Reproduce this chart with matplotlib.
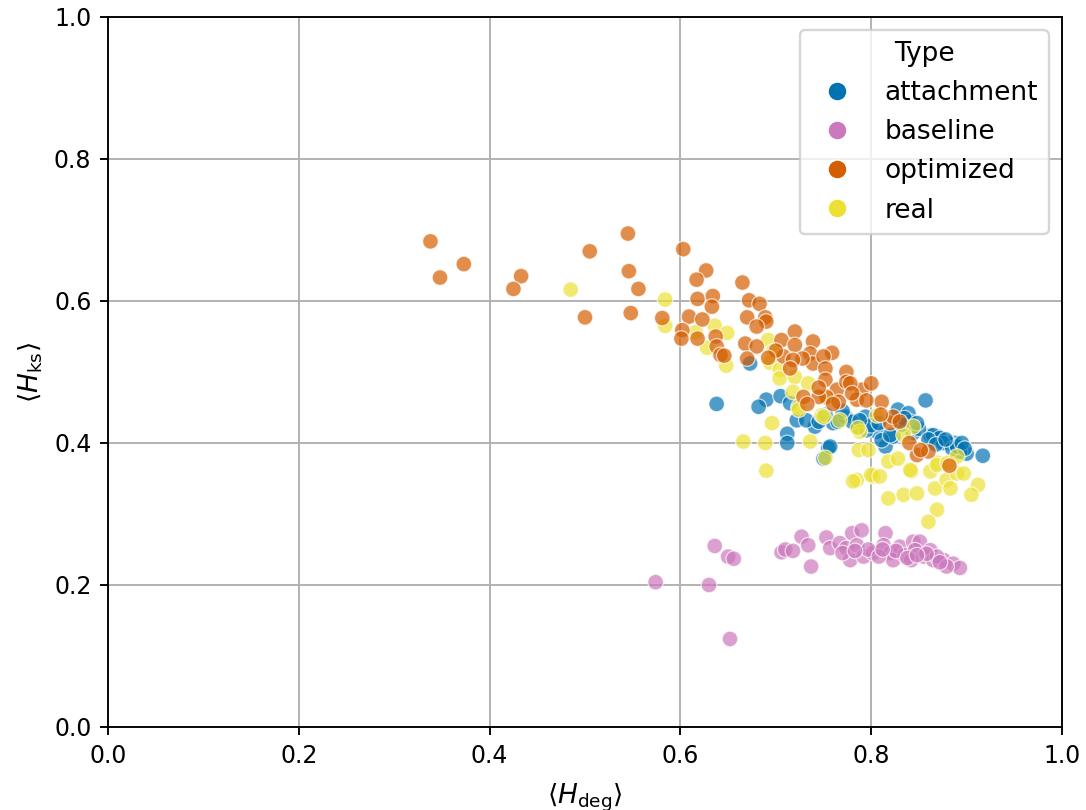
import matplotlib
matplotlib.use("Agg")
import matplotlib.pyplot as plt
import pandas as pd
import seaborn as sns

# values
attachment_x = [0.638, 0.673, 0.690, 0.682, 0.705, 0.715, 0.722, 0.712, 0.712, 0.741,
                0.755, 0.760, 0.773, 0.794, 0.785, 0.806, 0.815, 0.828, 0.839, 0.857,
                0.841, 0.862, 0.870, 0.888, 0.900, 0.917, 0.893, 0.881, 0.844, 0.823,
                0.811, 0.795, 0.750, 0.820, 0.865, 0.872, 0.757, 0.732, 0.745, 0.780,
                0.800, 0.835, 0.850, 0.875, 0.885, 0.890, 0.895, 0.860, 0.770, 0.765,
                0.752, 0.788, 0.808, 0.832, 0.848, 0.868, 0.878, 0.898]
attachment_y = [0.455, 0.512, 0.461, 0.451, 0.466, 0.456, 0.432, 0.413, 0.400, 0.423,
                0.393, 0.428, 0.437, 0.437, 0.423, 0.416, 0.395, 0.447, 0.442, 0.460,
                0.430, 0.411, 0.409, 0.400, 0.385, 0.382, 0.388, 0.400, 0.414, 0.409,
                0.404, 0.418, 0.378, 0.411, 0.411, 0.407, 0.395, 0.432, 0.430, 0.430,
                0.425, 0.435, 0.420, 0.400, 0.392, 0.395, 0.400, 0.405, 0.445, 0.430,
                0.440, 0.432, 0.428, 0.426, 0.428, 0.398, 0.405, 0.392]

baseline_x = [0.574, 0.630, 0.652, 0.636, 0.650, 0.656, 0.706, 0.710, 0.718, 0.727,
              0.734, 0.737, 0.753, 0.757, 0.767, 0.774, 0.778, 0.780, 0.790, 0.785,
              0.792, 0.802, 0.815, 0.813, 0.820, 0.823, 0.830, 0.835, 0.844, 0.851,
              0.846, 0.855, 0.862, 0.865, 0.876, 0.886, 0.893, 0.842, 0.869, 0.879,
              0.797, 0.808, 0.826, 0.838, 0.858, 0.872, 0.770, 0.783, 0.812, 0.848]
baseline_y = [0.204, 0.200, 0.124, 0.255, 0.240, 0.237, 0.246, 0.250, 0.248, 0.268,
              0.256, 0.226, 0.267, 0.252, 0.259, 0.252, 0.235, 0.273, 0.277, 0.256,
              0.240, 0.245, 0.273, 0.256, 0.245, 0.235, 0.254, 0.242, 0.261, 0.261,
              0.249, 0.240, 0.249, 0.235, 0.235, 0.230, 0.224, 0.235, 0.240, 0.226,
              0.250, 0.240, 0.248, 0.238, 0.244, 0.232, 0.245, 0.248, 0.250, 0.242]

optimized_x = [0.338, 0.348, 0.373, 0.433, 0.425, 0.505, 0.500, 0.545, 0.546, 0.556,
               0.548, 0.603, 0.627, 0.617, 0.618, 0.634, 0.633, 0.581, 0.609, 0.623,
               0.602, 0.601, 0.618, 0.637, 0.638, 0.642, 0.646, 0.665, 0.672, 0.683,
               0.670, 0.689, 0.690, 0.680, 0.668, 0.680, 0.670, 0.706, 0.720, 0.720,
               0.708, 0.739, 0.736, 0.739, 0.728, 0.718, 0.759, 0.750, 0.752, 0.774,
               0.752, 0.764, 0.774, 0.790, 0.800, 0.811, 0.785, 0.753, 0.729, 0.820,
               0.823, 0.848, 0.860, 0.882, 0.778, 0.766, 0.745, 0.745, 0.733, 0.760,
               0.780, 0.795, 0.810, 0.830, 0.840, 0.852, 0.700, 0.715, 0.692]
optimized_y = [0.684, 0.633, 0.652, 0.635, 0.617, 0.670, 0.577, 0.695, 0.642, 0.617,
               0.583, 0.673, 0.643, 0.630, 0.603, 0.607, 0.592, 0.576, 0.578, 0.574,
               0.559, 0.547, 0.547, 0.550, 0.536, 0.524, 0.523, 0.626, 0.601, 0.596,
               0.577, 0.577, 0.571, 0.564, 0.540, 0.536, 0.519, 0.545, 0.557, 0.538,
               0.522, 0.543, 0.526, 0.512, 0.519, 0.517, 0.527, 0.522, 0.505, 0.500,
               0.489, 0.475, 0.486, 0.475, 0.484, 0.458, 0.461, 0.465, 0.465, 0.428,
               0.437, 0.383, 0.388, 0.368, 0.484, 0.458, 0.465, 0.478, 0.455, 0.455,
               0.470, 0.460, 0.440, 0.430, 0.400, 0.390, 0.530, 0.505, 0.520]

real_x = [0.485, 0.584, 0.584, 0.616, 0.636, 0.628, 0.649, 0.648, 0.692, 0.697,
          0.694, 0.704, 0.704, 0.720, 0.734, 0.718, 0.724, 0.748, 0.696, 0.666,
          0.689, 0.736, 0.690, 0.752, 0.787, 0.797, 0.785, 0.802, 0.788, 0.767,
          0.818, 0.834, 0.818, 0.848, 0.842, 0.862, 0.870, 0.844, 0.834, 0.867,
          0.879, 0.890, 0.912, 0.905, 0.869, 0.860, 0.828, 0.841, 0.869, 0.880,
          0.890, 0.897, 0.883, 0.781, 0.800, 0.809, 0.753, 0.750, 0.786, 0.806,
          0.724]
real_y = [0.616, 0.602, 0.565, 0.556, 0.565, 0.534, 0.555, 0.509, 0.545, 0.529,
          0.513, 0.503, 0.491, 0.493, 0.484, 0.472, 0.451, 0.439, 0.428, 0.402,
          0.400, 0.402, 0.361, 0.379, 0.390, 0.390, 0.348, 0.353, 0.416, 0.432,
          0.374, 0.327, 0.322, 0.329, 0.360, 0.360, 0.372, 0.423, 0.411, 0.336,
          0.348, 0.357, 0.341, 0.327, 0.306, 0.289, 0.378, 0.362, 0.369, 0.372,
          0.381, 0.357, 0.336, 0.346, 0.355, 0.353, 0.463, 0.437, 0.421, 0.439,
          0.447]

types = ["attachment", "baseline", "optimized", "real"]
cb = sns.color_palette("colorblind")
colors = {"attachment": cb[0], "baseline": cb[4], "optimized": cb[3], "real": cb[8]}

df = pd.concat([
    pd.DataFrame({"x": attachment_x, "y": attachment_y, "Type": "attachment"}),
    pd.DataFrame({"x": baseline_x, "y": baseline_y, "Type": "baseline"}),
    pd.DataFrame({"x": real_x, "y": real_y, "Type": "real"}),
    pd.DataFrame({"x": optimized_x, "y": optimized_y, "Type": "optimized"}),
], ignore_index=True)

fig = plt.figure(figsize=(1086 / 170, 810 / 170), dpi=170)
ax = fig.add_axes([108 / 1086, 83 / 810, 954 / 1086, 710 / 810])

sns.scatterplot(data=df, x="x", y="y", hue="Type", hue_order=types,
                palette=colors, alpha=0.7, s=44, ax=ax)

ax.set_xlim(0, 1)
ax.set_ylim(0, 1)
ax.set_xticks([0, 0.2, 0.4, 0.6, 0.8, 1.0])
ax.set_yticks([0, 0.2, 0.4, 0.6, 0.8, 1.0])
ax.grid(True)
ax.set_axisbelow(True)
ax.set_xlabel(r"$\langle H_{\mathrm{deg}} \rangle$", fontsize=11.2, labelpad=6)
ax.set_ylabel(r"$\langle H_{\mathrm{ks}} \rangle$", fontsize=11.2)
leg = ax.legend(title="Type", loc="upper right", fontsize=11.2, title_fontsize=11.2,
                markerscale=1.2)
for h in leg.legend_handles:
    h.set_alpha(1)

fig.savefig("out.png", dpi=170)
